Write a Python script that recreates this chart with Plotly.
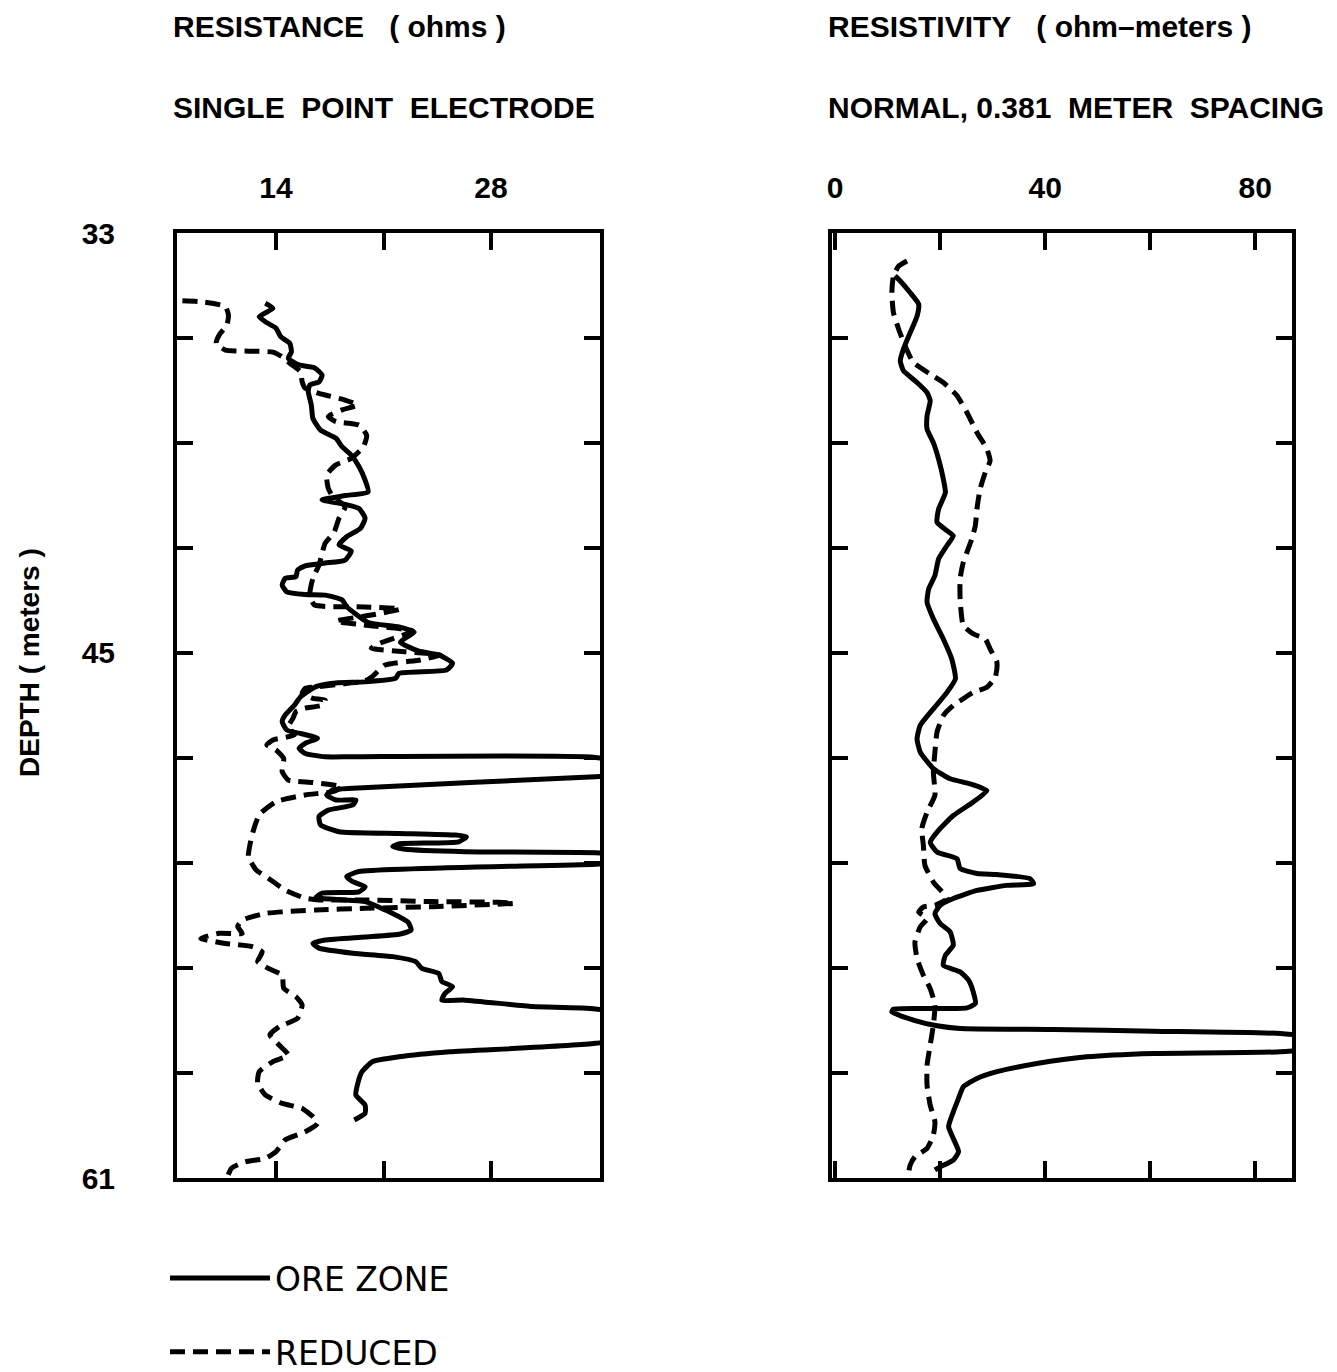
import plotly.graph_objects as go

# ---------------- DATA ----------------
# Left panel: single point electrode resistance (ohms) vs depth (m)
res_ore_depth = [35.08, 35.23, 35.48, 35.63, 35.82, 36.07, 36.27, 36.52, 36.71, 36.91,
                 36.99, 37.21, 37.41, 37.50, 37.70, 38.10, 38.49, 38.84, 39.08, 39.33,
                 39.58, 39.92, 40.32, 40.67, 40.78, 40.91, 41.04, 41.16, 41.45, 41.75,
                 42.00, 42.24, 42.42, 42.69, 42.78, 42.86, 42.99, 43.18, 43.23, 43.43,
                 43.63, 43.71, 43.73, 43.87, 44.07, 44.54, 44.67, 44.83, 45.01, 45.13,
                 45.39, 45.50, 45.75, 45.95, 46.05, 46.19, 46.30, 46.33, 46.44, 46.74,
                 46.99, 47.28, 47.48, 47.73, 47.82, 47.92, 47.97, 48.12, 48.27, 48.42,
                 48.52, 48.52, 48.54, 49.00, 49.11, 49.45, 49.50, 49.65, 49.80, 49.80,
                 49.95, 50.10, 50.29, 50.54, 50.74, 50.79, 50.84, 50.89, 51.04, 51.10,
                 51.18, 51.26, 51.33, 51.36, 51.55, 51.70, 51.92, 52.07, 52.22, 52.37,
                 52.52, 52.56, 52.69, 52.75, 52.81, 53.16, 53.42, 53.65, 53.77, 53.86,
                 53.95, 54.05, 54.19, 54.34, 54.44, 54.59, 54.79, 54.94, 55.18, 55.33,
                 55.53, 55.73, 55.73, 55.92, 55.99, 56.50, 57.01, 57.26, 57.41, 57.55,
                 57.85, 58.24, 58.54, 58.84, 59.08, 59.28]
res_ore_ohms = [13.3, 13.8, 12.9, 13.3, 14.0, 14.3, 14.9, 15.0, 14.8, 15.5,
                16.5, 17.0, 16.8, 16.2, 16.1, 16.3, 16.4, 16.9, 17.9, 18.3,
                18.9, 19.4, 19.8, 20.0, 18.5, 17.0, 18.5, 19.4, 19.8, 19.5,
                18.6, 18.1, 18.9, 18.5, 17.2, 15.9, 15.4, 15.3, 14.6, 14.4,
                14.7, 15.9, 17.2, 18.3, 18.6, 20.0, 22.0, 23.0, 22.4, 22.1,
                23.3, 24.6, 25.5, 25.1, 22.0, 21.8, 19.8, 17.9, 16.6, 15.6,
                15.2, 14.6, 14.4, 14.7, 15.5, 16.4, 16.7, 15.9, 15.5, 15.9,
                17.2, 19.0, 34.8, 40.0, 34.8, 19.0, 17.7, 17.3, 17.9, 19.2,
                19.0, 17.4, 16.8, 16.9, 18.1, 22.0, 25.7, 26.4, 25.9, 22.0,
                21.6, 22.4, 26.3, 34.8, 40.0, 34.8, 19.4, 18.6, 19.0, 19.8,
                19.4, 17.0, 16.6, 18.1, 19.8, 21.6, 22.6, 22.8, 22.1, 19.8,
                17.2, 16.4, 16.8, 19.0, 21.6, 23.1, 23.5, 24.6, 24.8, 25.5,
                25.0, 24.8, 26.3, 30.7, 34.8, 40.0, 34.8, 25.3, 22.0, 20.3,
                19.6, 19.3, 19.2, 19.8, 19.8, 19.1]

res_red_depth = [35.01, 35.04, 35.18, 35.43, 35.73, 36.02, 36.27, 36.47, 36.50, 36.53,
                 36.67, 36.86, 37.11, 37.41, 37.60, 37.75, 37.95, 38.10, 38.24, 38.44,
                 38.59, 38.69, 38.99, 39.33, 39.68, 39.87, 40.17, 40.56, 40.81, 41.11,
                 41.45, 41.85, 42.19, 42.49, 42.84, 43.23, 43.73, 44.02, 44.08, 44.14,
                 44.32, 44.50, 44.64, 44.79, 45.15, 45.30, 45.41, 45.50, 45.65, 45.80,
                 46.13, 46.27, 46.44, 46.49, 46.64, 46.79, 46.84, 46.99, 47.08, 47.18,
                 47.38, 47.63, 47.87, 48.02, 48.17, 48.32, 48.57, 48.96, 49.21, 49.28,
                 49.41, 49.55, 49.65, 49.85, 50.24, 50.74, 51.13, 51.48, 51.87, 52.12,
                 52.47, 52.71, 52.76, 52.76, 52.81, 52.83, 52.86, 52.96, 53.01, 53.06,
                 53.16, 53.36, 53.55, 53.75, 53.75, 53.90, 54.05, 54.15, 54.30, 54.59,
                 54.79, 54.99, 55.38, 55.63, 55.87, 56.27, 56.52, 56.76, 57.06, 57.36,
                 57.55, 57.85, 58.19, 58.54, 58.79, 58.94, 59.18, 59.38, 59.63, 59.87,
                 60.22, 60.42, 60.52, 60.71, 61.00]
res_red_ohms = [7.9, 9.2, 10.7, 10.9, 10.8, 10.3, 10.1, 10.7, 12.2, 13.8,
                14.4, 14.9, 15.6, 15.7, 15.9, 16.8, 18.5, 19.3, 18.3, 17.4,
                17.9, 19.4, 19.9, 19.7, 18.9, 17.9, 17.3, 17.4, 17.7, 18.5,
                18.1, 17.8, 17.2, 17.0, 16.8, 16.4, 16.2, 16.5, 19.8, 22.1,
                20.2, 17.9, 20.2, 22.9, 20.8, 20.2, 22.4, 24.7, 23.4, 21.1,
                20.3, 19.8, 16.8, 15.9, 15.7, 16.4, 17.2, 17.0, 15.9, 15.3,
                15.1, 14.8, 15.2, 13.8, 13.4, 14.0, 14.5, 14.4, 14.8, 16.4,
                18.3, 17.7, 15.9, 14.0, 12.9, 12.5, 12.3, 12.2, 12.7, 13.5,
                14.6, 15.9, 16.8, 19.8, 24.2, 28.5, 29.5, 24.2, 19.8, 16.6,
                13.3, 11.8, 11.5, 11.8, 10.3, 9.1, 10.7, 12.5, 13.1, 12.8,
                13.5, 14.4, 14.5, 15.3, 15.7, 15.4, 14.2, 13.6, 14.2, 14.8,
                13.8, 12.9, 12.8, 13.3, 14.4, 15.7, 16.4, 16.7, 15.9, 14.6,
                14.0, 13.3, 12.0, 11.1, 10.8]

# Right panel: normal resistivity (ohm-m) vs depth (m)
rho_ore_depth = [34.27, 34.42, 34.77, 35.11, 35.46, 35.95, 36.44, 36.79, 37.08, 37.43,
                 37.73, 37.97, 38.42, 38.81, 39.21, 39.70, 40.29, 40.69, 41.18, 41.57,
                 41.82, 41.97, 42.26, 42.66, 43.15, 43.55, 43.94, 44.43, 45.03, 45.62,
                 46.21, 46.61, 47.10, 47.59, 47.99, 48.38, 48.87, 49.17, 49.32, 49.52,
                 49.86, 50.26, 50.75, 51.05, 51.34, 51.54, 51.83, 51.98, 52.01, 52.13,
                 52.28, 52.33, 52.48, 52.72, 52.92, 53.17, 53.46, 53.71, 54.10, 54.40,
                 54.70, 54.89, 55.14, 55.49, 55.83, 55.96, 55.98, 56.00, 56.08, 56.32,
                 56.49, 56.57, 56.60, 56.65, 56.72, 57.00, 57.26, 57.31, 57.41, 57.61,
                 57.85, 58.05, 58.30, 58.64, 59.04, 59.48, 59.83, 60.22, 60.47, 60.67,
                 60.76]
rho_ore = [11.4, 12.4, 14.3, 15.9, 15.6, 14.3, 13.0, 12.4, 13.0, 15.6,
           17.5, 18.1, 17.5, 17.5, 18.7, 19.7, 20.6, 21.0, 19.7, 19.4,
           21.3, 22.5, 21.3, 19.7, 19.0, 17.8, 17.5, 18.7, 20.6, 22.2,
           22.9, 21.3, 18.7, 16.2, 15.6, 16.2, 18.7, 21.9, 25.7, 28.9,
           26.3, 22.5, 19.4, 18.1, 19.4, 23.2, 23.8, 27.0, 30.8, 37.1,
           37.8, 32.7, 27.0, 22.5, 20.0, 19.0, 20.0, 21.9, 22.5, 21.0,
           20.6, 23.8, 25.4, 26.3, 26.7, 25.1, 18.1, 11.1, 10.8, 14.9,
           19.4, 23.8, 41.6, 60.6, 84.8, 100.0, 84.8, 60.6, 47.9, 38.4,
           30.8, 27.0, 24.4, 23.5, 22.5, 21.6, 22.5, 23.5, 22.5, 20.0,
           19.0]

rho_red_depth = [33.83, 33.98, 34.27, 34.77, 35.36, 35.85, 36.34, 36.84, 37.18, 37.43,
                 37.82, 38.32, 38.91, 39.40, 39.75, 40.09, 40.59, 41.18, 41.67, 42.07,
                 42.46, 42.76, 43.25, 43.84, 44.63, 44.88, 45.03, 45.32, 45.72, 46.16,
                 46.46, 46.61, 46.80, 47.00, 47.30, 47.79, 48.38, 48.97, 49.66, 50.16,
                 50.65, 51.14, 51.74, 52.23, 52.72, 52.92, 52.97, 53.12, 53.31, 53.56,
                 54.01, 54.50, 54.99, 55.39, 55.88, 56.47, 57.06, 57.66, 58.25, 58.84,
                 59.33, 59.73, 60.12, 60.37, 60.61, 61.00]
rho_red = [13.7, 12.1, 11.1, 10.8, 11.1, 12.1, 13.3, 14.9, 18.1, 20.6,
           23.2, 25.1, 27.0, 28.9, 29.5, 28.6, 27.6, 27.0, 26.7, 26.0,
           25.1, 24.4, 23.8, 23.8, 24.4, 26.3, 28.6, 29.5, 30.8, 30.5,
           28.9, 26.3, 24.4, 22.5, 20.6, 19.4, 19.0, 18.7, 19.0, 17.5,
           16.5, 16.8, 17.1, 18.7, 21.3, 19.0, 16.8, 15.9, 17.5, 16.2,
           15.2, 15.6, 16.8, 18.1, 19.0, 18.7, 18.1, 17.5, 17.5, 18.1,
           19.0, 18.7, 17.5, 15.2, 14.3, 13.8]

# Axis ticks
depth_tickvals = [33.0, 36.11, 39.22, 42.33, 45.44, 48.56, 51.67, 54.78, 57.89, 61.0]
depth_ticktext = ["33", "", "", "", "45", "", "", "", "", "61"]
res_tickvals = [14, 21, 28]
res_ticktext = ["14", "", "28"]
rho_tickvals = [0, 20, 40, 60, 80]
rho_ticktext = ["0", "", "40", "", "80"]

# ---------------- FIGURE ----------------
W, H = 1337, 1372
def fx(p):
    return p / W
def fy(p):
    return 1 - p / H

BOLD = dict(family="Liberation Sans", size=30, color="black", weight="bold")
LW = 5
DASH = "15px,8px"
SHAPE = dict(shape="spline", smoothing=0.5)

fig = go.Figure()
fig.add_trace(go.Scatter(x=res_ore_ohms, y=res_ore_depth, mode="lines", name="ORE ZONE",
                         legendgroup="ore", line=dict(color="black", width=LW, **SHAPE),
                         xaxis="x", yaxis="y"))
fig.add_trace(go.Scatter(x=res_red_ohms, y=res_red_depth, mode="lines", name="REDUCED",
                         legendgroup="red",
                         line=dict(color="black", width=LW, dash=DASH, **SHAPE),
                         xaxis="x", yaxis="y"))
fig.add_trace(go.Scatter(x=rho_ore, y=rho_ore_depth, mode="lines", name="ORE ZONE",
                         legendgroup="ore", showlegend=False,
                         line=dict(color="black", width=LW, **SHAPE), xaxis="x2", yaxis="y2"))
fig.add_trace(go.Scatter(x=rho_red, y=rho_red_depth, mode="lines", name="REDUCED",
                         legendgroup="red", showlegend=False,
                         line=dict(color="black", width=LW, dash=DASH, **SHAPE),
                         xaxis="x2", yaxis="y2"))

common_axis = dict(showline=True, linecolor="black", linewidth=4, mirror="ticks",
                   ticks="inside", tickcolor="black", tickwidth=4, showgrid=False,
                   zeroline=False, tickfont=BOLD, fixedrange=True, automargin=False)

ydom = [fy(1178), fy(233)]
fig.update_layout(
    width=W, height=H, margin=dict(l=0, r=0, t=0, b=0, autoexpand=False),
    paper_bgcolor="white", plot_bgcolor="white",
    xaxis=dict(domain=[fx(177), fx(600)], range=[7.55, 35.1], side="top",
               tickvals=res_tickvals, ticktext=res_ticktext, ticklen=17,
               ticklabelstandoff=19, anchor="y", **common_axis),
    yaxis=dict(domain=ydom, range=[61, 33], tickvals=depth_tickvals,
               ticktext=depth_ticktext, ticklen=16, ticklabelstandoff=52,
               anchor="x", **common_axis),
    xaxis2=dict(domain=[fx(832), fx(1292)], range=[-0.6, 87], side="top",
                tickvals=rho_tickvals, ticktext=rho_ticktext, ticklen=17,
                ticklabelstandoff=19, anchor="y2", **common_axis),
    yaxis2=dict(domain=ydom, range=[61, 33], tickvals=depth_tickvals,
                showticklabels=False, ticklen=16, anchor="x2", **common_axis),
    showlegend=True,
    legend=dict(x=fx(165), y=fy(1250), xanchor="left", yanchor="top",
                orientation="v", traceorder="grouped", tracegroupgap=28,
                itemwidth=100, bgcolor="rgba(0,0,0,0)",
                font=dict(family="DejaVu Sans", size=33, color="black")),
)

NB = "\u00a0"
titles = [
    ("RESISTANCE" + NB * 3 + "(" + NB + "ohms" + NB + ")", 171, 27),
    ("SINGLE" + NB * 2 + "POINT" + NB * 2 + "ELECTRODE", 171, 108),
    ("RESISTIVITY" + NB * 3 + "(" + NB + "ohm–meters" + NB + ")", 826, 27),
    ("NORMAL," + NB + "0.381" + NB * 2 + "METER" + NB * 2 + "SPACING", 826, 108),
]
for txt, x, y in titles:
    fig.add_annotation(text=txt, x=fx(x), y=fy(y), xref="paper", yref="paper",
                       xanchor="left", yanchor="middle", showarrow=False, font=BOLD)

fig.add_annotation(text="DEPTH" + NB + "(" + NB + "meters" + NB + ")", x=fx(29), y=fy(663),
                   xref="paper", yref="paper", xanchor="center", yanchor="middle",
                   textangle=-90, showarrow=False,
                   font=dict(family="Liberation Sans", size=28, color="black", weight="bold"))

fig.write_html("out.html")
